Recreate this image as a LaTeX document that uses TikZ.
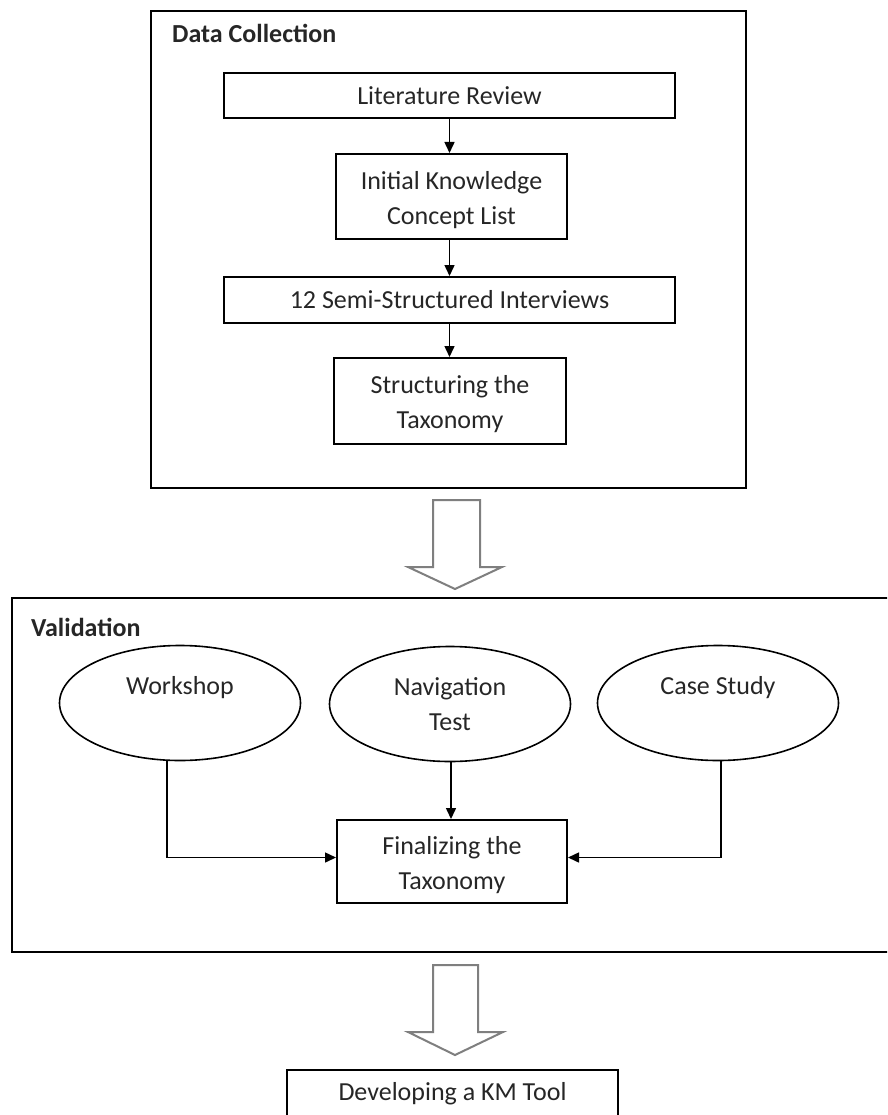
\documentclass[tikz,border=0pt]{standalone}
\usepackage{fontspec}
\setmainfont{Carlito}
\usetikzlibrary{shapes.geometric,arrows.meta}
\definecolor{textcol}{HTML}{262626}
\definecolor{arrowgray}{HTML}{7F7F7F}
\begin{document}
\begin{tikzpicture}[x=1pt,y=-1pt,
  basefont/.style={font=\fontsize{26}{35}\selectfont},
  basefont,
  box/.style={draw=black, line width=2pt, inner sep=0pt, align=center, text=textcol},
  frame/.style={draw=black, line width=2pt, inner sep=0pt},
  title/.style={anchor=west, inner sep=0pt, text=textcol, font=\fontsize{26}{35}\selectfont\bfseries},
  oval/.style={ellipse, draw=black, line width=1.6pt, minimum width=241pt, minimum height=115pt,
    inner sep=0pt, align=center, text=textcol},
  conn/.style={line width=1.5pt, -{Triangle[length=11pt,width=10pt]}},
  hollow/.style={draw=arrowgray, line width=2pt, fill=white, line join=miter},
]
\useasboundingbox (0,0) rectangle (887,1115);
\clip (0,0) rectangle (887,1115);

% ---------- Data collection stage ----------
\node[frame, minimum width=595pt, minimum height=477pt] (dc) at (448.5,249.5) {};
\node[title] (dctitle) at (172,33) {Data Collection};

\node[box, minimum width=451pt, minimum height=45pt] (lit) at (449.5,95.5) {Literature Review};
\node[box, minimum width=231pt, minimum height=85pt] (ikc) at (451.5,196.5) {\strut Initial Knowledge\\Concept List};
\node[box, minimum width=451pt, minimum height=46pt] (ssi) at (449.5,300) {12 Semi-Structured Interviews};
\node[box, minimum width=232pt, minimum height=86pt] (stx) at (450,401) {\strut Structuring the\\Taxonomy};

\draw[conn] (lit.south) -- (lit.south |- ikc.north);
\draw[conn] (lit.south |- ikc.south) -- (lit.south |- ssi.north);
\draw[conn] (lit.south |- ssi.south) -- (lit.south |- stx.north);

% ---------- hollow arrow between stages ----------
\draw[hollow] (433,500) -- (480,500) -- (480,567) -- (502,567) -- (455,589)
  -- (408,567) -- (433,567) -- cycle;

% ---------- Validation stage ----------
\node[frame, minimum width=878pt, minimum height=354pt] (val) at (451,775) {};
\node[title] (valtitle) at (31,627) {Validation};

\node[oval] (ws) at (180,703) {Workshop\\\mbox{}};
\node[oval] (nt) at (450,704) {Navigation\\Test};
\node[oval] (cs) at (718,703) {Case Study\\\mbox{}};

\node[box, minimum width=230pt, minimum height=83pt] (fin) at (452,861.5) {\strut Finalizing the\\Taxonomy};

\draw[conn] ([xshift=-13pt]ws.south) |- ([yshift=4pt]fin.west);
\draw[conn] ([xshift=1pt]nt.south) -- ([xshift=1pt]nt.south |- fin.north);
\draw[conn] ([xshift=3pt]cs.south) |- ([yshift=4pt]fin.east);

% ---------- hollow arrow to the outcome ----------
\draw[hollow] (433,965) -- (478,965) -- (478,1032) -- (503,1032) -- (455,1055)
  -- (408,1032) -- (433,1032) -- cycle;

% ---------- outcome ----------
\node[box, minimum width=331pt, minimum height=47pt] (kmt) at (452.5,1093.5) {Developing a KM Tool};
\end{tikzpicture}
\end{document}
